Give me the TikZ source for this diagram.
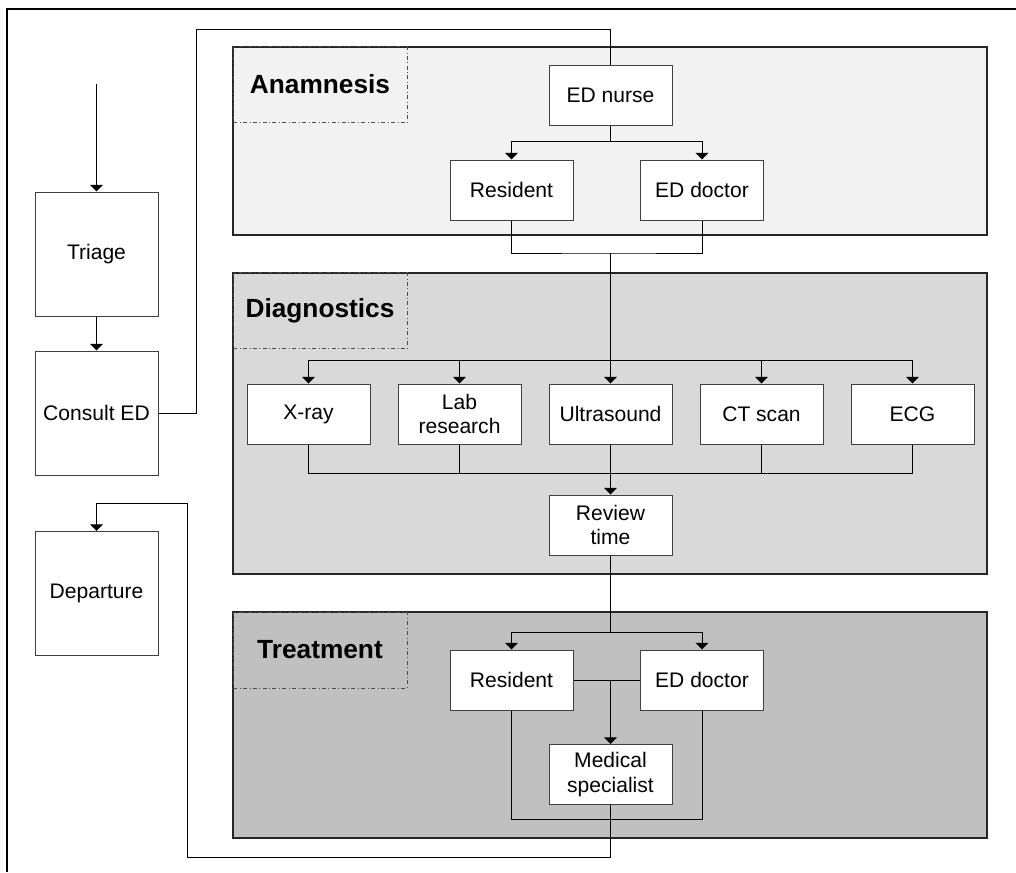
\documentclass[tikz,border=0pt]{standalone}
\usepackage{fontspec}
\setmainfont{Liberation Sans}
\usetikzlibrary{arrows.meta}
\definecolor{panelA}{HTML}{F2F2F2}
\definecolor{panelB}{HTML}{D9D9D9}
\definecolor{panelC}{HTML}{C0C0C0}
\definecolor{edge}{HTML}{404040}
\begin{document}
\begin{tikzpicture}[x=0.75pt,y=-0.75pt,
  every node/.style={font=\fontsize{15.8pt}{18.5pt}\selectfont, inner sep=0pt, align=center},
  panel/.style={draw=black!85, line width=0.9pt, minimum width=565.5pt},
  tag/.style={draw=black!70, dash dot, line width=0.75pt, minimum width=130.5pt, minimum height=57pt,
              font=\fontsize{19.7pt}{22pt}\selectfont\bfseries},
  task/.style={draw=edge, fill=white, line width=0.75pt, minimum width=92.25pt, minimum height=45pt},
  phase/.style={draw=edge, fill=white, line width=0.75pt, minimum width=92.25pt, minimum height=93pt},
  link/.style={draw=black, line width=0.75pt},
  arr/.style={link, -{Triangle[length=5pt,width=9.5pt]}}
]
\useasboundingbox (0,0) rectangle (1016,872);

% outer frame (top and left edges)
\draw[line width=2pt] (7,872) -- (7,9) -- (1016,9);

% phase panels
\node[panel, fill=panelA, minimum height=141pt]    (pA) at (610,141) {};
\node[panel, fill=panelB, minimum height=225.75pt] (pB) at (610,423.5) {};
\node[panel, fill=panelC, minimum height=169.5pt]  (pC) at (610,725) {};

\node[tag] (tA) at (320,84.5) {Anamnesis};
\node[tag] (tB) at (320,310.5) {Diagnostics};
\node[tag] (tC) at (320,650) {Treatment};

% left column
\coordinate (entry) at (96.5,84);
\node[phase] (triage)  at (96.5,254)   {Triage};
\node[phase] (consult) at (96.5,413)   {Consult ED};
\node[phase] (depart)  at (96.5,593.5) {Departure};

% anamnesis
\node[task] (nurse) at (610.5,95.5) {ED nurse};
\node[task] (resA)  at (511.5,190)  {Resident};
\node[task] (docA)  at (702,190)    {ED doctor};

% diagnostics
\node[task] (xray)   at (308.5,414) {X-ray};
\node[task] (lab)    at (459.5,414) {Lab\\research};
\node[task] (us)     at (610.5,414) {Ultrasound};
\node[task] (ct)     at (761.5,414) {CT scan};
\node[task] (ecg)    at (912.5,414) {ECG};
\node[task] (review) at (610.5,525) {Review\\time};

% treatment
\node[task] (resT) at (511.5,680)  {Resident};
\node[task] (docT) at (702,680)    {ED doctor};
\node[task] (spec) at (610.5,774.5) {Medical\\specialist};

% routing points
\coordinate (topA)   at (196,29);
\coordinate (splitA) at (610.5,141);
\coordinate (joinA)  at (610.5,253);
\coordinate (splitB) at (610.5,360);
\coordinate (joinB)  at (610.5,473);
\coordinate (splitC) at (610.5,632);
\coordinate (midC)   at (610.5,680);
\coordinate (joinC)  at (610.5,819);
\coordinate (backR)  at (610.5,857);
\coordinate (backL)  at (187,857);
\coordinate (backT)  at (187,503);

% intake
\draw[arr] (entry) -- (triage.north);
\draw[arr] (triage.south) -- (consult.north);
\draw[link] (consult.east) -| (topA) -| (nurse.north);

% anamnesis flow
\draw[link] (nurse.south) -- (splitA);
\draw[arr] (splitA) -| (resA.north);
\draw[arr] (splitA) -| (docA.north);
\draw[link] (resA.south) |- (joinA) -| (docA.south);
\draw[arr] (joinA) -- (us.north);

% diagnostics flow
\draw[arr] (splitB) -| (xray.north);
\draw[arr] (splitB) -| (lab.north);
\draw[arr] (splitB) -| (ct.north);
\draw[arr] (splitB) -| (ecg.north);
\draw[link] (xray.south) |- (joinB) -| (ecg.south);
\draw[link] (lab.south) -- (lab.south |- joinB);
\draw[link] (ct.south) -- (ct.south |- joinB);
\draw[arr] (us.south) -- (review.north);

% treatment flow
\draw[link] (review.south) -- (splitC);
\draw[arr] (splitC) -| (resT.north);
\draw[arr] (splitC) -| (docT.north);
\draw[link] (resT.east) -- (docT.west);
\draw[arr] (midC) -- (spec.north);
\draw[link] (resT.south) |- (joinC) -| (docT.south);

% discharge
\draw[arr] (spec.south) -- (backR) -- (backL) -- (backT) -| (depart.north);
\end{tikzpicture}
\end{document}
